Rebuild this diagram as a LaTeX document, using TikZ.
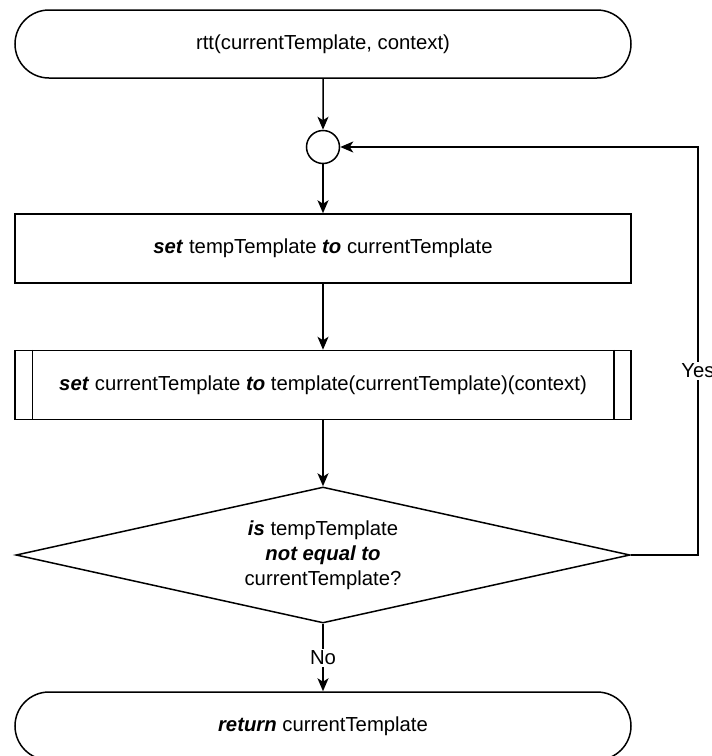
\documentclass[tikz,border=0pt]{standalone}
\usepackage{fontspec}
\setmainfont{Liberation Sans}
\usetikzlibrary{arrows.meta,shapes.misc,shapes.geometric}
\begin{document}
\begin{tikzpicture}[x=1pt,y=-1pt,
  every node/.style={font=\fontsize{20.3}{25}\selectfont, inner sep=0pt},
  term/.style={draw, line width=1.5pt, rounded rectangle, minimum width=616pt, minimum height=68pt},
  procbox/.style={draw, line width=1.5pt, rectangle, minimum width=616pt, minimum height=69pt},
  decbox/.style={draw, line width=1.5pt, diamond, aspect=4.5, minimum width=614pt, minimum height=136pt, align=center},
  junc/.style={draw, line width=1.5pt, circle, minimum size=33pt},
  arr/.style={line width=1.5pt, -{Stealth[length=13pt, width=11pt, inset=3.5pt]}},
  lbl/.style={fill=white, inner sep=1.5pt},
]
\useasboundingbox (0,0) rectangle (712,756);
\node[term] (start) at (323,44) {rtt(currentTemplate, context)};
\node[junc] (circ) at (323,147) {};
\node[procbox] (b1) at (323,248.5) {\textbf{\textit{set}} tempTemplate \textbf{\textit{to}} currentTemplate};
\node[procbox] (b2) at (323,385) {\textbf{\textit{set}} currentTemplate \textbf{\textit{to}} template(currentTemplate)(context)};
\draw[line width=1.5pt] ([xshift=18pt]b2.north west) -- ([xshift=18pt]b2.south west);
\draw[line width=1.5pt] ([xshift=-18pt]b2.north east) -- ([xshift=-18pt]b2.south east);
\node[decbox] (dec) at (323,555) {\textbf{\textit{is}} tempTemplate\\\textbf{\textit{not equal to}}\\currentTemplate?};
\node[term] (end) at (323,726) {\textbf{\textit{return}} currentTemplate};

\draw[arr] (start) -- (circ);
\draw[arr] (circ) -- (b1);
\draw[arr] (b1) -- (b2);
\draw[arr] (b2) -- (dec);
\draw[arr] (dec) -- (end);
\node[lbl] (no) at (323,658) {No};
\coordinate (lp) at (698,555);
\draw[arr] (dec.east) -- (lp) |- (circ.east);
\node[lbl] (yes) at (698,371) {Yes};
\end{tikzpicture}
\end{document}
